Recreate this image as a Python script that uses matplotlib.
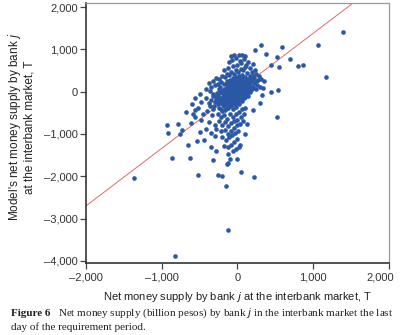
import matplotlib
matplotlib.use("Agg")
import matplotlib.pyplot as plt
import matplotlib.transforms as mtransforms
import numpy as np
from matplotlib.ticker import FuncFormatter

core = [(-240, -380), (-200, -300), (-180, -350), (-150, -260), (-130, -320), (-110, -200),
        (-90, -280), (-70, -150), (-50, -230), (-30, -120), (-10, -180), (10, -90), (30, -140),
        (50, -40), (70, -100), (90, 20), (110, -30), (130, 60), (150, 10),
        (-230, -220), (-210, -160), (-190, -120), (-170, -60), (-150, -100), (-130, -20),
        (-110, -70), (-90, 10), (-70, -40), (-50, 50), (-30, 0), (-10, 80), (10, 30), (30, 110),
        (50, 70), (70, 150), (90, 100), (110, 180), (130, 130), (150, 220),
        (-260, -100), (-240, -40), (-220, 20), (-200, -10), (-180, 60), (-160, 30), (-140, 100),
        (-120, 70), (-100, 140), (-80, 110), (-60, 180), (-40, 150), (-20, 220), (0, 190),
        (20, 260), (40, 230), (60, 300), (80, 260),
        (-300, -250), (-280, -180), (-260, -300), (-220, -420), (-160, -440), (-120, -380),
        (-80, -350), (-60, -420), (-40, -300), (-20, -360), (0, -250), (20, -300), (40, -200),
        (60, -220), (80, -160), (100, -120), (120, -60), (140, -100), (160, -20), (180, 40),
        (-20, -60), (0, -20), (-40, 40), (20, 10), (-60, -10), (-80, -90), (40, 40), (60, -10),
        (80, 50), (100, 80), (-100, -140), (-120, -180), (-140, -150), (-160, -200), (-190, -250)]

core2 = [(-330, -420), (-310, -330), (-290, -100), (-270, -40), (-250, 60), (-230, 120),
         (-210, -460), (-190, -60), (-170, -140), (-150, -40), (-130, 50), (-110, -120),
         (-90, -50), (-70, 30), (-50, -100), (-30, 70), (-10, -40), (10, 120), (30, -40),
         (50, 160), (70, 20), (90, 200), (110, 120), (130, 250), (150, 100), (170, 160),
         (190, 300), (210, 80), (-240, -150), (-200, -230), (-160, -300), (-140, -380),
         (-100, -300), (-60, -250), (-20, -270), (20, -200), (60, -120), (100, -40), (140, 40),
         (-250, -250), (-45, -180), (-15, -100), (15, -150), (-75, -200), (-105, -250),
         (-125, -80), (-165, -10), (-185, 0), (-135, 180), (-95, 210), (-55, 260), (-15, 290),
         (25, 330), (65, 350), (105, 260), (-25, 120), (5, 80), (35, 180), (-65, 90), (-85, 160),
         (120, 210), (160, 290), (200, 380), (240, 250), (270, 280), (-350, -200), (-380, -280),
         (-320, -50), (-360, 20)]

upper = [(-330, 260), (-290, 330), (-250, 300), (-210, 380), (-170, 350), (-140, 420),
         (-110, 390), (-80, 460), (-50, 420), (-20, 500), (10, 460), (40, 540), (70, 500),
         (100, 580), (130, 430), (160, 380), (190, 470), (220, 330), (250, 410), (280, 360),
         (310, 300), (350, 250), (-180, 520), (-120, 560), (-60, 600), (-10, 640), (50, 680),
         (110, 620), (170, 560), (230, 520), (-110, 700), (-70, 750), (-20, 800), (30, 730),
         (90, 770), (140, 700), (200, 650), (-90, 850), (-40, 870), (20, 870), (59, 873),
         (99, 850), (231, 991), (310, 1110), (376, 897), (442, 637), (521, 826), (548, 590),
         (587, 1060), (693, 780), (-380, 200), (-350, 120), (-420, 60), (-300, 150),
         (-260, 180), (-220, 220), (-180, 170), (-140, 240), (-100, 280), (-60, 320),
         (-20, 350), (20, 380), (60, 400), (100, 340), (140, 300), (180, 260), (220, 200),
         (260, 150), (300, 100), (240, 60), (200, 120), (337, 95), (442, 0), (535, 45)]

lower = [(-260, -520), (-220, -600), (-180, -560), (-140, -650), (-100, -520), (-60, -600),
         (-20, -520), (20, -480), (60, -420), (100, -380), (-240, -700), (-200, -780),
         (-160, -720), (-120, -820), (-80, -740), (-40, -700), (0, -660), (40, -600),
         (80, -540), (125, -760), (-280, -880), (-220, -940), (-170, -900), (-130, -1000),
         (-90, -920), (-50, -860), (-10, -800), (30, -760), (70, -700), (-200, -1080),
         (-150, -1150), (-110, -1080), (-70, -1030), (-30, -980), (10, -940), (99, -990),
         (-180, -1280), (-130, -1320), (-90, -1250), (-50, -1180), (-10, -1120), (33, -1250),
         (-60, -1400), (-20, -1350), (20, -1300), (-120, -1480), (205, -430), (297, -280),
         (323, -70), (521, -600)]

left = [(-420, -150), (-480, -250), (-360, -330), (-520, -380), (-400, -450), (-450, -520),
        (-340, -560), (-560, -600), (-480, -680), (-380, -720), (-620, -750), (-300, -800),
        (-420, -880), (-350, -980), (-500, -950), (-300, -1050), (-440, -1150), (-350, -1300),
        (-280, -1400), (-600, -300), (-680, -480), (-330, -100), (-500, -50), (-560, -150),
        (-930, -780), (-920, -970), (-785, -755), (-735, -900), (-760, -990), (-560, -425),
        (-590, -520), (-650, -1250), (-535, -1155)]

outliers = [(-1360, -2050), (-830, -3880), (-870, -1560), (-630, -1580), (-520, -1960),
            (-320, -1610), (-140, -1720), (-100, -1600), (-120, -1680), (-5, -1600),
            (-255, -1960), (-200, -1990), (45, -1910), (220, -2010), (-150, -2220),
            (-125, -3280), (1395, 1415), (1065, 1110), (1170, 355), (865, 640), (800, 615)]

# fitted line: model = slope * observed + intercept
slope, intercept = 1.36, 20

x_ticks = [-2000, -1000, 0, 1000, 2000]
y_ticks = [-4000, -3000, -2000, -1000, 0, 1000, 2000]

pts = np.array(core + core2 + upper + lower + left + outliers)

fig = plt.figure(figsize=(4, 3.35), dpi=100)
ax = fig.add_axes([86 / 400, 1 - 263 / 335, 303 / 400, 260 / 335])

ax.scatter(pts[:, 0], pts[:, 1], s=11, color='#2a58a4', linewidths=0, zorder=3,
           clip_on=False)
xl = np.array([-2000, 2000])
ax.plot(xl, slope * xl + intercept, color='#e06a6a', lw=0.7, zorder=2)

ax.set_xlim(-2000, 2000)
ax.set_ylim(-4050, 2095)
ax.set_xticks(x_ticks)
ax.set_yticks(y_ticks)
fmt = FuncFormatter(lambda v, p: '{:,.0f}'.format(v).replace('-', '\u2013'))
ax.xaxis.set_major_formatter(fmt)
ax.yaxis.set_major_formatter(fmt)
ax.tick_params(labelsize=8, labelcolor='#333333', color='#444444', length=4,
               width=0.9, direction='out')
ax.tick_params(axis='x', pad=3)
ax.tick_params(axis='y', pad=2)

for s in ['left', 'bottom']:
    ax.spines[s].set_color('#333333')
    ax.spines[s].set_linewidth(1.2)
for s in ['top', 'right']:
    ax.spines[s].set_color('#999999')
    ax.spines[s].set_linewidth(0.9)

for lab in ax.get_xticklabels() + ax.get_yticklabels():
    lab.set_family('Liberation Sans')
# last x label sits a bit left of its tick so it fits the page
last = ax.get_xticklabels()[-1]
last.set_transform(last.get_transform() + mtransforms.ScaledTranslation(-9 / 100, 0, fig.dpi_scale_trans))

fig.text(237 / 400, 1 - 297 / 335, 'Net money supply by bank $\\it{j}$ at the interbank market, T',
         ha='center', va='center', fontsize=8, color='#222222', family='Liberation Sans')
fig.text(21 / 400, 1 - 127 / 335,
         "Model's net money supply by bank $\\it{j}$\nat the interbank market, T",
         ha='center', va='center', rotation=90, fontsize=8.5, color='#222222',
         family='Liberation Sans', multialignment='center', linespacing=1.05)

fig.text(11 / 400, 1 - 313 / 335, 'Figure 6', ha='left', va='center', fontsize=8,
         weight='bold', color='#222222', family='Liberation Serif')
fig.text(58 / 400, 1 - 313 / 335,
         'Net money supply (billion pesos) by bank $\\it{j}$ in the interbank market the last',
         ha='left', va='center', fontsize=8, color='#222222', family='Liberation Serif')
fig.text(11 / 400, 1 - 327 / 335, 'day of the requirement period.',
         ha='left', va='center', fontsize=8, color='#222222', family='Liberation Serif')

fig.savefig('out.png', dpi=100)
